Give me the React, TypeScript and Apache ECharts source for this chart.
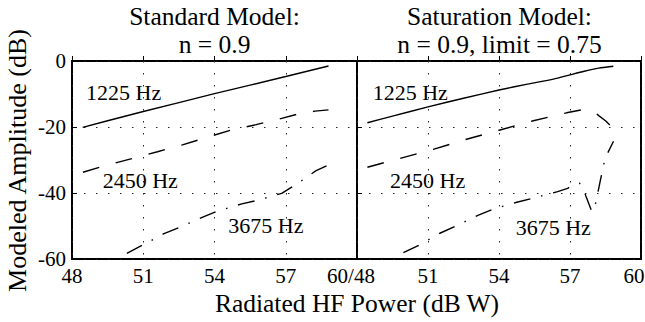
import React, { useEffect, useRef } from "react";
import * as echarts from "echarts";

// x: Radiated HF Power (dB W), y: Modeled Amplitude (dB)
const xTicks = [48, 51, 54, 57, 60];
const yTicks = [-60, -40, -20, 0];

const std1225: number[][] = [[48.45, -20.1], [49.5, -18.1], [51, -15.3], [52.5, -12.6], [54, -9.9], [55.5, -7.3], [57, -4.7], [58.8, -1.5]];
const std2450: number[][] = [[48.46, -33.7], [49.5, -31.5], [50.52, -29.6], [51.6, -27.5], [52.65, -25.4], [53.7, -23.1], [54.66, -21.0], [55.75, -19.3], [56.83, -17.4], [57.5, -16.1], [58.23, -15.2], [58.8, -14.8]];
const std3675: number[][] = [[50.31, -58.3], [50.97, -55.8], [51.85, -52.4], [52.53, -50.4], [53.48, -47.4], [54.13, -45.5], [55.15, -43.3], [55.82, -42.2], [56.83, -40.1], [57.44, -37.4], [58.28, -33.2], [58.83, -31.4]];

const sat1225: number[][] = [[48.44, -18.7], [49.5, -16.7], [51, -13.9], [52.5, -11.3], [54, -8.8], [55.2, -7.0], [56.3, -5.5], [57.0, -4.2], [57.6, -3.1], [58.1, -2.3], [58.5, -1.9], [58.83, -1.6]];
const sat2450: number[][] = [[48.44, -32.2], [49.82, -29.5], [51.22, -26.8], [52.63, -23.7], [54.04, -20.9], [55.45, -18.1], [56.86, -15.7], [57.5, -14.8], [57.8, -14.9], [58.05, -15.6], [58.24, -16.7], [58.5, -18.1], [58.76, -19.9], [58.84, -21.5]];
const sat3675: number[][] = [[49.96, -58.1], [50.63, -55.8], [51.5, -52.2], [52.18, -50.0], [53.13, -46.7], [53.76, -44.9], [54.75, -42.8], [55.42, -41.6], [56.48, -39.6], [56.9, -38.6], [57.15, -37.5], [57.4, -37.0], [57.55, -38.5], [57.67, -40.9], [57.9, -45.2], [58.0, -45.6], [58.13, -41.6], [58.27, -36.6], [58.48, -29.5], [58.84, -24.3]];

const titlesLeft = ["Standard Model:", "n = 0.9"];
const titlesRight = ["Saturation Model:", "n = 0.9, limit = 0.75"];
const freqLabels = ["1225 Hz", "2450 Hz", "3675 Hz"];
const xName = "Radiated HF Power (dB W)";
const yName = "Modeled Amplitude (dB)";

const FONT = "Liberation Serif";

export default function App() {
  const ref = useRef<HTMLDivElement>(null);
  useEffect(() => {
    if (!ref.current) return;
    const chart = echarts.init(ref.current, undefined, { renderer: "svg" });
    const dashed = [17, 17];
    const dashDot = [17, 11, 1.5, 11];
    const lineBase = (data: number[][], idx: number, type: any) => ({
      type: "line",
      data,
      xAxisIndex: idx,
      yAxisIndex: idx,
      showSymbol: false,
      symbol: "none",
      lineStyle: { color: "#000", width: 1.4, type, cap: "butt" },
      silent: true,
    });
    const splitLine = { show: true, lineStyle: { color: "#222", width: 1, type: [1.5, 10.5] } };
    const mkX = (idx: number) => ({
      type: "value",
      gridIndex: idx,
      min: xTicks[0],
      max: xTicks[xTicks.length - 1],
      interval: 3,
      axisLine: { show: false },
      axisTick: { show: true, inside: true, length: 5, lineStyle: { color: "#000" } },
      splitLine,
      axisLabel: {
        color: "#000",
        fontFamily: FONT,
        fontSize: 21,
        margin: 6,
        formatter: (v: number) => {
          if (idx === 0 && v === 60) return "{m|60/48}";
          if (idx === 1 && v === 48) return "";
          if (idx === 1 && v === 60) return "{e|60}";
          return String(v);
        },
        rich: {
          m: { fontFamily: FONT, fontSize: 21, color: "#000", padding: [0, 12, 0, 0] },
          e: { fontFamily: FONT, fontSize: 21, color: "#000", padding: [0, 14, 0, 0] },
        },
      },
    });
    const mkY = (idx: number) => ({
      type: "value",
      gridIndex: idx,
      min: yTicks[0],
      max: yTicks[yTicks.length - 1],
      interval: 20,
      axisLine: { show: false },
      axisTick: { show: true, inside: true, length: 5, lineStyle: { color: "#000" } },
      splitLine,
      axisLabel: {
        show: idx === 0,
        color: "#000",
        fontFamily: FONT,
        fontSize: 21,
        margin: 6,
      },
    });
    const txt = (text: string, x: number, y: number, size: number, align = "left", rotation = 0) => ({
      type: "text",
      x,
      y,
      rotation,
      silent: true,
      style: { text, fill: "#000", fontFamily: FONT, fontSize: size, textAlign: align, textVerticalAlign: "middle" },
    });
    chart.setOption({
      animation: false,
      backgroundColor: "#fff",
      grid: [
        { left: 72, top: 61, width: 285, height: 198, show: true, borderColor: "#000", borderWidth: 2, containLabel: false, outerBoundsMode: "none" },
        { left: 357, top: 61, width: 284, height: 198, show: true, borderColor: "#000", borderWidth: 2, containLabel: false, outerBoundsMode: "none" },
      ],
      xAxis: [mkX(0), mkX(1)],
      yAxis: [mkY(0), mkY(1)],
      series: [
        lineBase(std1225, 0, "solid"),
        lineBase(std2450, 0, dashed),
        lineBase(std3675, 0, dashDot),
        { ...lineBase(sat1225, 1, "solid"), smooth: 0.25 },
        lineBase(sat2450, 1, dashed),
        lineBase(sat3675, 1, dashDot),
      ],
      graphic: [
        txt(titlesLeft[0], 214.5, 16.6, 25.5, "center"),
        txt(titlesLeft[1], 214.5, 44.6, 25.5, "center"),
        txt(titlesRight[0], 499.5, 16.6, 25.5, "center"),
        txt(titlesRight[1], 499.5, 44.6, 25.5, "center"),
        txt(freqLabels[0], 86, 92.5, 22),
        txt(freqLabels[1], 102.7, 180.8, 22),
        txt(freqLabels[2], 228.3, 225.8, 22),
        txt(freqLabels[0], 372.7, 92.5, 22),
        txt(freqLabels[1], 390, 180.8, 22),
        txt(freqLabels[2], 515.7, 227.5, 22),
        txt(xName, 357, 303, 25.5, "center"),
        txt(yName, 17.5, 160.5, 26, "center", Math.PI / 2),
      ],
    });
    return () => chart.dispose();
  }, []);
  return <div ref={ref} style={{ position: "absolute", left: 0, top: 0, width: 645, height: 322 }} />;
}
